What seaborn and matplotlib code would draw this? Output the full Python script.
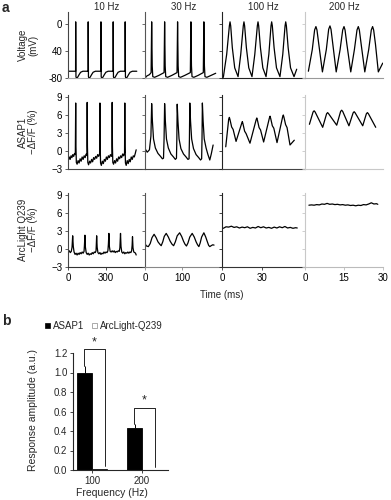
import numpy as np
import pandas as pd
import matplotlib
matplotlib.use('Agg')
import matplotlib.pyplot as plt
from matplotlib.patches import Patch
import seaborn as sns

# ---------------------------------------------------------------- #
#  Panel a : traces as (time ms, value) vertices
# ---------------------------------------------------------------- #
FREQ_TITLES = ['10 Hz', '30 Hz', '100 Hz', '200 Hz']
ROW_LABELS = ['Voltage\n(mV)', 'ASAP1\n\u2212\u0394F/F (%)', 'ArcLight Q239\n\u2212\u0394F/F (%)']

# voltage, mV
volt_10_t = [2, 60, 61, 63, 66, 76, 88, 100, 118, 159, 160, 162, 165, 175, 187, 199, 217,
             260, 261, 263, 266, 276, 288, 300, 318, 357, 358, 360, 363, 373, 385, 397, 415,
             452, 453, 455, 458, 468, 480, 492, 510, 545]
volt_10_v = [-70, -70, 3, -78, -80, -79, -75, -71.5, -70, -70, 3, -78, -80, -79, -75, -71.5, -70,
             -70, 3, -78, -80, -79, -75, -71.5, -70, -70, 3, -78, -80, -79, -75, -71.5, -70,
             -70, 3, -78, -80, -79, -75, -71.5, -70, -70]

volt_30_t = [0.5, 5, 12, 16.5, 18, 19.5, 21, 26, 38, 51.5, 53, 54.5, 56, 61, 73, 86.5,
             88, 89.5, 91, 96, 108, 122.5, 124, 125.5, 127, 132, 144, 157.5,
             159, 160.5, 162, 167, 179, 191]
volt_30_v = [-80, -77, -75, -72, 3, -62, -78, -79, -76, -72, 3, -62, -78, -79, -76, -72,
             3, -62, -78, -79, -76, -72, 3, -62, -78, -79, -76, -72,
             3, -62, -78, -79, -76, -73]

volt_100_t = [1, 3.5, 5.5, 6.0, 6.5, 7.7, 9.5, 12, 14, 15.9, 16.4, 16.9, 18.2, 20, 22.4,
              24.5, 26.4, 26.9, 27.4, 28.7, 30.5, 32.9, 35, 36.6, 37.1, 37.6, 38.9, 40.7,
              43.3, 45.4, 47.1, 47.6, 48.1, 49.4, 51.2, 53.8, 55.8]
volt_100_v = [-79, -45, -3, 3, -3, -35, -65, -78, -45, -3, 3, -3, -35, -65, -78,
              -45, -3, 3, -3, -35, -65, -78, -45, -3, 3, -3, -35, -65,
              -78, -45, -3, 3, -3, -35, -65, -78, -67]

volt_200_t = [1.3, 2.8, 3.7, 4.2, 4.6, 5.3, 6.7, 8.2, 9.1, 9.6, 10.0, 10.7, 12.0,
              13.5, 14.5, 15.0, 15.4, 16.1, 17.6, 19.0, 20.0, 20.5, 20.9, 21.6, 23.0,
              24.5, 25.5, 26.0, 26.4, 27.1, 28.2, 29.9]
volt_200_v = [-70, -38, -9, -4, -9, -30, -71, -38, -8, -3, -8, -30, -71,
              -38, -9, -4, -9, -30, -71, -38, -9, -4, -9, -30, -71,
              -38, -9, -4, -9, -30, -71, -58]

# ASAP1, -dF/F %
asap_10_t = [3, 10, 17, 24, 31, 38, 45, 52, 58, 61, 63, 66,
             72, 80, 88, 96, 104, 112, 120, 128, 136, 144, 150, 152, 154, 157,
             163, 171, 179, 187, 195, 203, 211, 219, 227, 235, 243, 251, 253, 255, 258,
             264, 272, 280, 288, 296, 304, 312, 320, 328, 336, 344, 348, 350, 352, 355,
             361, 369, 377, 385, 393, 401, 409, 417, 425, 433, 441, 448, 450, 452, 455,
             461, 469, 477, 485, 493, 501, 509, 517, 525, 533, 540]
asap_10_v = [-1.5, -1.0, -1.4, -0.8, -1.1, -0.6, -0.9, -0.4, -0.6, 8.0, 0.8, -1.9,
             -2.2, -1.6, -2.0, -1.3, -1.7, -1.0, -1.4, -0.8, -1.1, -0.5, -0.7, 8.1, 0.8, -1.9,
             -2.3, -1.7, -2.0, -1.4, -1.8, -1.1, -1.4, -0.9, -1.2, -0.6, -0.9, -0.4, 8.0, 0.8, -2.0,
             -2.4, -1.7, -2.1, -1.4, -1.7, -1.0, -1.4, -0.8, -1.1, -0.6, -0.9, -0.4, 8.1, 0.8, -1.9,
             -2.2, -1.6, -2.0, -1.3, -1.7, -1.0, -1.3, -0.8, -1.1, -0.5, -0.8, -0.3, 8.0, 0.8, -2.0,
             -2.4, -1.6, -2.1, -1.4, -1.8, -1.0, -1.4, -0.8, -1.0, -0.4, 0.2]

asap_30_t = [1, 6, 12, 16, 18, 20, 23, 28, 35, 42, 47, 50, 51.5,
             53, 55, 58, 63, 70, 77, 82, 85, 86,
             87, 89, 92, 97, 104, 111, 116, 119, 120,
             121, 123, 126, 131, 138, 145, 150, 153, 154,
             155, 157, 160, 165, 170, 175, 179, 184]
asap_30_v = [0.3, -0.2, 0.2, 2.5, 7.9, 5.0, 2.0, 0.5, -0.4, -0.9, -1.3, -1.2, 2.0,
             7.9, 5.0, 2.0, 0.5, -0.5, -1.0, -1.4, -1.2, 2.0,
             7.8, 5.0, 2.0, 0.4, -0.5, -1.0, -1.4, -1.3, 2.0,
             8.0, 5.0, 2.0, 0.4, -0.6, -1.1, -1.5, -1.3, 2.0,
             8.0, 5.0, 2.0, 0.5, -0.6, -1.5, -0.5, 1.0]

asap_100_t = [2.8, 5.0, 5.5, 6.0, 7.2, 8.3, 10.5, 14.7, 15.2, 15.7, 16.9, 18.0, 20.9,
              25.5, 26.0, 26.5, 27.7, 28.8, 31.1, 35.4, 35.9, 36.4, 37.6, 38.7, 41.1,
              45.3, 45.8, 46.3, 47.5, 48.6, 50.8, 54.0]
asap_100_v = [0.7, 5.3, 5.6, 5.2, 4.0, 3.6, 1.6, 4.6, 4.9, 4.5, 3.3, 2.9, 1.3,
              5.2, 5.5, 5.1, 3.9, 3.5, 1.5, 5.5, 5.8, 5.4, 4.2, 3.8, 1.4,
              5.7, 6.0, 5.6, 4.4, 3.9, 1.0, 1.8]

asap_200_t = [1.7, 3.1, 3.5, 3.9, 6.8, 8.3, 8.7, 9.1, 12.2, 13.7, 14.1, 14.5, 16.9,
              18.5, 18.9, 19.3, 22.2, 23.6, 24.0, 24.4, 27.2]
asap_200_v = [4.45, 6.5, 6.7, 6.5, 3.95, 6.2, 6.4, 6.2, 4.3, 6.6, 6.8, 6.6, 4.2,
              6.35, 6.55, 6.35, 4.2, 6.2, 6.4, 6.2, 3.95]

# ArcLight Q239, -dF/F %
arc_10_t = [2.6, 10, 18, 26, 32, 37, 42, 48, 56, 64, 72, 80, 88, 96, 104, 112, 120, 127,
            130, 134, 138, 144, 152, 160, 168, 176, 184, 192, 200, 208, 216, 222,
            224, 227, 231, 237, 245, 253, 261, 269, 277, 285, 293, 301, 309, 316,
            320, 324, 328, 334, 342, 350, 358, 366, 374, 382, 390, 398, 406, 411,
            416, 420, 426, 434, 442, 450, 458, 466, 474, 482, 490, 498, 504, 508,
            511, 515, 521, 529, 535, 540]
arc_10_v = [-0.45, -0.3, -0.6, -0.4, 0.3, 2.2, 0.4, -0.5, -0.9, -0.7, -1.0, -0.7, -0.9, -0.6, -0.8, -0.5, -0.7, -0.4,
            0.5, 2.3, 0.3, -0.6, -0.9, -0.7, -1.0, -0.8, -0.9, -0.6, -0.8, -0.5, -0.6, -0.3,
            0.6, 2.2, 0.3, -0.6, -0.8, -0.6, -0.9, -0.7, -0.8, -0.5, -0.7, -0.5, -0.6, -0.3,
            0.8, 2.6, 0.4, -0.4, -0.5, -0.3, -0.5, -0.3, -0.6, -0.4, -0.5, -0.3, -0.4, 0.2,
            2.6, 0.4, -0.5, -0.7, -0.5, -0.8, -0.6, -0.7, -0.5, -0.7, -0.5, -0.6, -0.3, 0.6,
            2.05, 0.2, -0.5, -0.6, -0.7, -1.0]

arc_30_t = [0.8, 4, 9, 14, 19, 24.6, 30, 35, 40, 43.7, 48, 52, 57.3, 63, 68, 73, 77.3,
            82, 87, 93.6, 99, 104, 108, 112, 116, 121, 127.5, 133, 138, 142, 145.5,
            149, 153, 159, 164, 169, 172, 175, 180, 183, 186.5]
arc_30_v = [0.8, 0.5, 0.4, 0.9, 1.9, 2.45, 1.9, 1.2, 0.8, 0.55, 1.2, 2.1, 2.6, 2.0, 1.3, 0.8, 0.55,
            1.2, 2.2, 2.7, 2.1, 1.3, 0.8, 0.5, 1.0, 2.0, 2.6, 2.0, 1.2, 0.7, 0.4,
            1.0, 2.0, 2.7, 2.0, 1.1, 0.6, 0.4, 0.6, 0.7, 0.65]

arc_100_t = [1, 3, 5, 7, 9, 11, 13, 15, 17, 19, 21, 23, 25, 27, 29, 31, 33, 35, 37, 39,
             41, 43, 45, 47, 49, 51, 53, 55, 56.2]
arc_100_v = [3.45, 3.7, 3.65, 3.8, 3.6, 3.7, 3.5, 3.65, 3.55, 3.7, 3.45, 3.6, 3.5, 3.75, 3.55,
             3.7, 3.5, 3.6, 3.45, 3.65, 3.5, 3.7, 3.55, 3.75, 3.5, 3.6, 3.45, 3.55, 3.5]

arc_200_t = [1.5, 2.5, 3.5, 4.5, 5.5, 6.5, 7.5, 8.5, 9.5, 10.5, 11.5, 12.5, 13.5, 14.5,
             15.5, 16.5, 17.5, 18.5, 19.5, 20.5, 21.5, 22.5, 23.5, 24.5, 25.5, 26.5, 27.5, 28]
arc_200_v = [7.3, 7.35, 7.3, 7.4, 7.35, 7.5, 7.45, 7.6, 7.45, 7.5, 7.4, 7.45, 7.35, 7.4,
             7.3, 7.35, 7.25, 7.3, 7.2, 7.3, 7.25, 7.4, 7.35, 7.5, 7.7, 7.5, 7.55, 7.45]

TRACES = [
    [(volt_10_t, volt_10_v), (volt_30_t, volt_30_v), (volt_100_t, volt_100_v), (volt_200_t, volt_200_v)],
    [(asap_10_t, asap_10_v), (asap_30_t, asap_30_v), (asap_100_t, asap_100_v), (asap_200_t, asap_200_v)],
    [(arc_10_t, arc_10_v), (arc_30_t, arc_30_v), (arc_100_t, arc_100_v), (arc_200_t, arc_200_v)],
]
TIME_TICKS = [[0, 300], [0, 100], [0, 30], [0, 15, 30]]
VOLT_TICKS = [0, -40, -80]
VOLT_TICKLABELS = ['0', '40', '-80']
DFF_TICKS = [-3, 0, 3, 6, 9]

# ---------------------------------------------------------------- #
#  Panel b : bar chart
# ---------------------------------------------------------------- #
FREQS = ['100', '200']
SENSORS = ['ASAP1', 'ArcLight-Q239']
ASAP1_AMP = [1.0, 0.43]
ASAP1_ERR = [0.07, 0.04]
ARCLIGHT_AMP = [0.012, 0.004]

# ---------------------------------------------------------------- #
sns.set_style('ticks')
plt.rcParams['font.family'] = ['Liberation Sans', 'DejaVu Sans']
plt.rcParams['axes.linewidth'] = 0.8

W, H = 391, 500
fig = plt.figure(figsize=(W / 100, H / 100), dpi=100)


def px_rect(left, top, right, bottom):
    return [left / W, 1 - bottom / H, (right - left) / W, (bottom - top) / H]


col_px = [68, 145, 222, 305, 383]
row_px = [(11.7, 78), (94.6, 169), (192.6, 267)]
xlims = [(0, 610), (0, 208), (0, 62), (0, 30)]
ylims = [(-80, 18), (-3, 9.4), (-3, 9.4)]
left_colors = ['#444444', '#555555', '#222222', '#c8c8c8']
bottom_colors = [['#aaaaaa', '#aaaaaa', '#222222', '#999999'],
                 ['#444444', '#444444', '#444444', '#c8c8c8'],
                 ['#333333', '#888888', '#333333', '#bbbbbb']]

for r in range(3):
    for c in range(4):
        ax = fig.add_axes(px_rect(col_px[c], row_px[r][0], col_px[c + 1], row_px[r][1]))
        t, v = TRACES[r][c]
        sns.lineplot(x=t, y=v, ax=ax, color='black', linewidth=0.9,
                     sort=False, estimator=None)
        ax.set_xlim(*xlims[c])
        ax.set_ylim(*ylims[r])
        for s in ['top', 'right']:
            ax.spines[s].set_visible(False)
        ax.spines['left'].set_color(left_colors[c])
        ax.spines['bottom'].set_color(bottom_colors[r][c])
        ax.spines['left'].set_linewidth(0.8)
        ax.spines['bottom'].set_linewidth(0.8)
        if r == 0:
            ax.set_yticks(VOLT_TICKS)
            ax.set_yticklabels(VOLT_TICKLABELS if c == 0 else [])
        else:
            ax.set_yticks(DFF_TICKS)
            if c > 0:
                ax.set_yticklabels([])
        if r == 2:
            ax.set_xticks(TIME_TICKS[c])
        else:
            ax.set_xticks([])
        ax.tick_params(length=2, width=0.6, labelsize=7, pad=2,
                       colors='black')
        ax.tick_params(axis='y', color=left_colors[c])
        ax.tick_params(axis='x', color=bottom_colors[r][c])
        ax.set_xlabel('')
        ax.set_ylabel('')
        if r == 0:
            ax.set_title(FREQ_TITLES[c], fontsize=7, pad=1.5)

row_centers = [45, 132, 230]
for r in range(3):
    fig.text(28 / W, 1 - row_centers[r] / H, ROW_LABELS[r], rotation=90,
             ha='center', va='center', fontsize=7, linespacing=1.0)

fig.text(222 / W, 1 - 295 / H, 'Time (ms)', ha='center', va='center', fontsize=7)
fig.text(0.004, 0.998, 'a', ha='left', va='top', fontsize=10, fontweight='bold')
fig.text(0.004, 1 - 314 / H, 'b', ha='left', va='top', fontsize=10, fontweight='bold')

# ---------------------------------------------------------------- #
#  Panel b
# ---------------------------------------------------------------- #
df = pd.DataFrame({
    'freq': FREQS * 2,
    'sensor': [SENSORS[0]] * len(FREQS) + [SENSORS[1]] * len(FREQS),
    'amp': ASAP1_AMP + ARCLIGHT_AMP,
})

axb = fig.add_axes(px_rect(73, 353, 168, 470))
sns.barplot(data=df, x='freq', y='amp', hue='sensor', hue_order=SENSORS,
            palette={SENSORS[0]: 'black', SENSORS[1]: 'white'},
            edgecolor='black', linewidth=0.6, width=0.6, errorbar=None,
            legend=False, ax=axb)

xs = np.arange(len(FREQS))
axb.errorbar(xs - 0.15, ASAP1_AMP, yerr=[np.zeros(len(FREQS)), ASAP1_ERR],
             fmt='none', ecolor='black', elinewidth=0.7, capsize=0)

# significance brackets
for i in range(len(FREQS)):
    top = ASAP1_AMP[i] + ASAP1_ERR[i] + 0.17
    x0, x1 = i - 0.16, i + 0.26
    axb.plot([x0, x0, x1, x1],
             [ASAP1_AMP[i] + ASAP1_ERR[i], top, top, ARCLIGHT_AMP[i] + 0.03],
             color='black', lw=0.6, clip_on=False)
    axb.text((x0 + x1) / 2, top + 0.01, '*', ha='center', va='bottom',
             fontsize=9, clip_on=False)

axb.set_xlim(-0.38, 1.52)
axb.set_ylim(0, 1.2)
axb.set_yticks(np.arange(0, 1.21, 0.2))
axb.set_yticklabels([f'{v:.1f}' for v in np.arange(0, 1.21, 0.2)])
axb.tick_params(length=2, width=0.6, labelsize=7, pad=2)
for s in ['top', 'right']:
    axb.spines[s].set_visible(False)
axb.set_xlabel('')
axb.set_ylabel('')
fig.text(33 / W, 1 - 410 / H, 'Response amplitude (a.u.)', rotation=90,
         ha='center', va='center', fontsize=7.5)
fig.text(112 / W, 1 - 493 / H, 'Frequency (Hz)', ha='center', va='center',
         fontsize=7.5)

handles = [Patch(facecolor='black', edgecolor='black', linewidth=0.5),
           Patch(facecolor='white', edgecolor='#888888', linewidth=0.5)]
fig.legend(handles, SENSORS, loc='center', bbox_to_anchor=(104 / W, 1 - 326 / H),
           ncol=2, frameon=False, fontsize=7, handlelength=0.55, handleheight=0.55,
           handletextpad=0.3, columnspacing=0.8, borderpad=0)

fig.savefig('out.png', dpi=100, facecolor='white')
